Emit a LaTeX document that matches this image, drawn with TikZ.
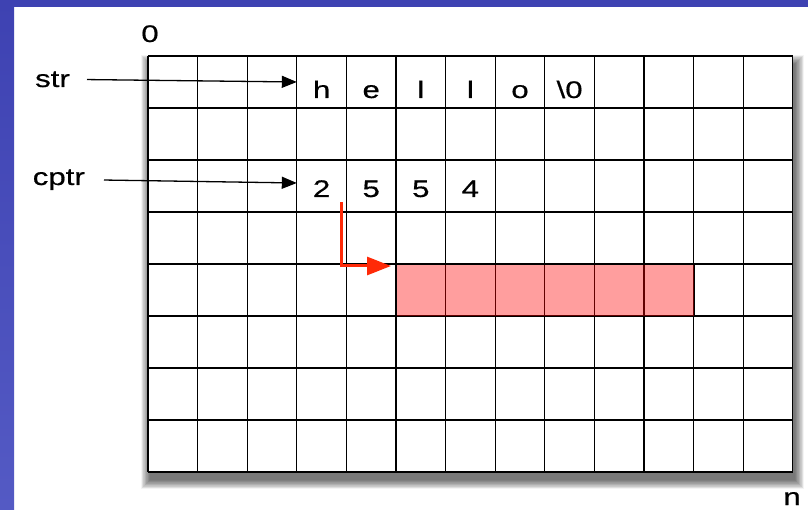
\documentclass[tikz,border=0pt]{standalone}
\usepackage{graphicx}
\usepackage{fontspec}
\setmainfont{Liberation Sans}
\newfontfamily\labelfont[FakeBold=0.5]{Liberation Sans}
\usetikzlibrary{positioning,arrows.meta}

\definecolor{slideblue}{RGB}{62,66,178}
\definecolor{slideblueb}{RGB}{84,90,196}
\definecolor{jumpred}{RGB}{255,42,8}
\newcommand{\widetxt}[1]{\scalebox{1.3}[1]{#1}}

\tikzset{
  txt/.style={inner sep=0pt, font=\labelfont\fontsize{24}{28}\selectfont},
  gridline/.style={line width=1.3pt, black},
  ptr/.style={-{Triangle[length=15pt,width=12pt]}, line width=1.3pt},
  jump/.style={-{Triangle[length=24pt,width=18pt]}, line width=3pt, jumpred},
  block/.style={draw=black, line width=1.3pt, fill=red, fill opacity=0.38,
                inner sep=0pt, minimum width=297.6pt, minimum height=52pt}
}

\begin{document}
\begin{tikzpicture}[x=1pt,y=-1pt]
\useasboundingbox (0,0) rectangle (808,510);
\fill[white] (0,0) rectangle (808,510);
\shade[top color=slideblue, bottom color=slideblueb] (0,0) rectangle (14,510);
\fill[slideblue] (0,0) rectangle (808,7);

% shadow under the memory
\foreach \k in {0,...,15}
  \fill[black, opacity=0.045] (150-0.6*\k,64-0.6*\k) rectangle (795+0.6*\k,480+0.6*\k);
\fill[white] (148,56) rectangle (792.8,472);

% memory grid, 13 x 8 cells
\foreach \c in {0,...,13}
  \draw[gridline] (148+\c*49.6,56) -- (148+\c*49.6,472);
\foreach \r in {0,...,8}
  \draw[gridline] (148,56+\r*52) -- (792.8,56+\r*52);

\node[block, anchor=north west] (block) at (396,264) {};

\node[txt, anchor=base] (zero) at (150,42) {\widetxt{0}};
\node[txt, anchor=base] (last) at (792,505) {\widetxt{n}};

% the string
\foreach \ch [count=\j from 3] in {h,e,l,l,o,{\textbackslash0}}
  \node[txt, anchor=base] (s\j) at (148+49.6*\j+24.8,98) {\widetxt{\ch}};
% the ints
\foreach \d [count=\j from 3] in {2,5,5,4}
  \node[txt, anchor=base] (n\j) at (148+49.6*\j+24.8,197) {\widetxt{\d}};

\node[txt, anchor=base east] (str) at (70,87) {\widetxt{str}};
\node[txt, anchor=base east] (cptr) at (85,185) {\widetxt{cptr}};
\coordinate (strcell) at (296.8,82);
\coordinate (cptrcell) at (296.8,183);

\draw[ptr, shorten <=17pt] (str.east) -- (strcell);
\draw[ptr, shorten <=19pt] (cptr.east) -- (cptrcell);
\draw[jump, shorten >=5pt] ([xshift=11pt,yshift=-5pt]n3.south east) |- ([yshift=-2pt]block.north west);
\end{tikzpicture}
\end{document}
